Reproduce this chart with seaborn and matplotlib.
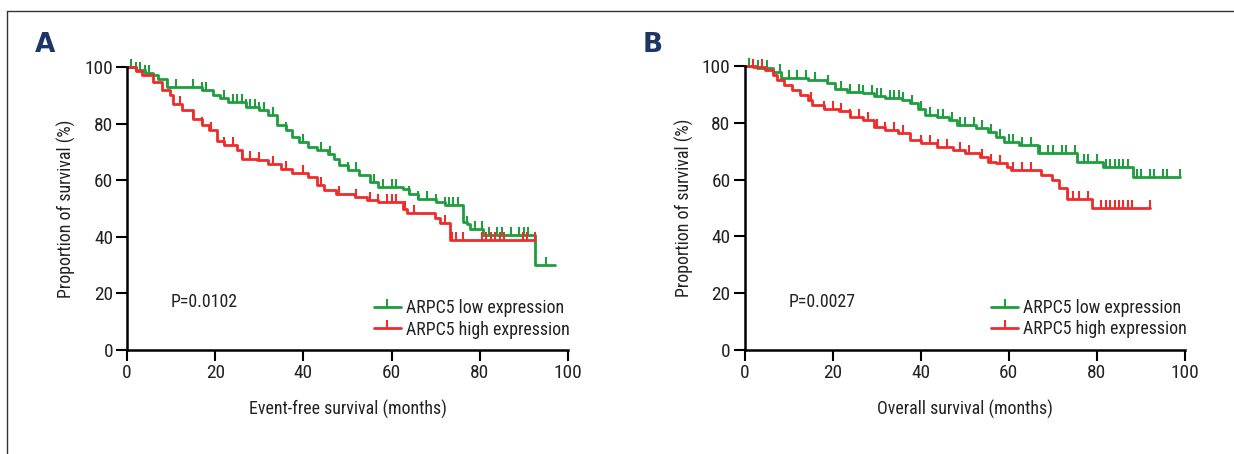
import numpy as np
import matplotlib
matplotlib.use("Agg")
import matplotlib.pyplot as plt
from matplotlib import font_manager
from matplotlib.font_manager import FontProperties
from matplotlib.lines import Line2D
import seaborn as sns

# ---------------- data ----------------
# Panel A: event-free survival (step times in months, survival % after step)
tA_low = [0, 2, 4, 6, 7, 9, 17, 19.5, 21, 23, 27, 30, 32, 34, 36, 37.5, 39, 41, 43,
          45.5, 47, 48, 50, 52.7, 55, 57, 62.5, 64, 66, 70, 72, 76.2, 77, 77.8, 80.7, 92.5, 97]
sA_low = [100, 99, 98, 97, 95.9, 93, 92, 90, 89, 87.6, 86, 84.7, 83, 79.4, 77.6, 75.3, 73.5, 71.8, 70.6,
          69.4, 67.6, 65.3, 63.5, 61.8, 59.4, 57.6, 57, 55.3, 53.5, 52.4, 51.2, 45.3, 44.5, 42.7, 40.6, 30, 30]
cA_low = [1, 2, 3, 4, 5, 9, 11, 15, 17, 18, 22, 24, 25, 26, 27, 28, 29, 30, 31, 33, 36, 40, 44,
          46, 50, 52, 56, 58, 60, 61, 64, 66, 68, 70, 72, 73, 74, 75, 77, 79, 80.5, 82, 84, 85,
          87, 89, 90, 91, 95]

tA_high = [0, 2, 3.4, 6, 8, 9.7, 10.5, 12.4, 15, 17, 18.6, 20.4, 22, 25, 26, 29.4, 32, 35, 37.5,
           41, 43, 44.6, 47.3, 51.8, 54.5, 57, 62.5, 63.5, 69.8, 71, 73.2, 92.5]
sA_high = [100, 98.5, 97, 94.7, 91.8, 90, 87, 84.7, 81.8, 79.4, 77.6, 74, 72.4, 70.6, 67.6, 67, 65.9, 64, 62.4,
           61.2, 58.2, 56.5, 55.3, 54, 53, 52.4, 50, 48.5, 46.7, 44.8, 38.9, 38.9]
cA_high = [12, 15, 17, 19, 22, 24, 26, 28, 30, 33, 36, 40, 44, 48, 52, 55, 57, 59, 60, 61, 63, 65,
           72, 73.6, 74.7, 76.2, 80.6, 81.5, 82.5, 83.5, 84.5, 85.5, 89.9, 90.6, 92.5]

# Panel B: overall survival
tB_low = [0, 2.8, 6.4, 8.2, 14.4, 18.8, 20.6, 23.3, 26.8, 29.5, 32, 35.7, 37.5, 39.3, 41, 43.7,
          46.4, 48.2, 52.6, 55.3, 57, 58.8, 62.4, 66.6, 75.4, 81.4, 88.2, 98.9]
sB_low = [100, 99.2, 98, 95.7, 95, 94.1, 92, 91, 90.4, 89.6, 88.6, 88, 86.9, 85, 82.7, 82.2,
          81, 79.2, 78, 76.9, 75, 73.4, 72.2, 69.3, 66.3, 64.5, 61, 61]
cB_low = [1, 3, 5, 8, 10, 12, 14, 16, 19, 22, 24, 26, 27, 29, 30, 31, 33, 34, 35, 36, 38, 40, 42,
          44, 45, 47, 49, 50, 52, 54, 56, 58, 60, 61, 63, 65, 67, 69, 70, 72, 73, 75, 77, 78, 80,
          82, 83, 84, 85, 86, 87, 89, 90, 92, 93, 95, 96, 98.9]

tB_high = [0, 2, 4.6, 6.4, 7.3, 9, 10.8, 12.6, 14.4, 15.3, 18, 21.5, 24, 26.8, 29.5, 32, 34.8,
           37.5, 40, 43.7, 47.3, 50, 53.5, 55.3, 57, 59.7, 60.6, 67.3, 69.8, 71.5, 73.1, 78.8, 92]
sB_high = [100, 99.8, 98.6, 96.8, 95, 93.3, 91.5, 89.8, 88, 86.3, 85, 84, 82.2, 81, 78.6, 77.5, 76.3,
           74, 72.8, 71.6, 70.4, 69.2, 68, 66.3, 65.7, 64.6, 63.4, 61.6, 59.9, 57, 53.3, 50, 50]
cB_high = [2, 4, 15, 18, 20, 22, 24, 26, 28, 30, 32, 34, 36, 40, 42, 44, 46, 49, 51, 54, 56, 58,
           61, 63, 65, 73.5, 74.5, 76, 78, 81, 82, 83, 84, 85, 86, 87, 88, 92]

panels = [
    dict(letter="A", xlabel="Event-free survival (months)", p="P=0.0102",
         low=(tA_low, sA_low, cA_low), high=(tA_high, sA_high, cA_high)),
    dict(letter="B", xlabel="Overall survival (months)", p="P=0.0027",
         low=(tB_low, sB_low, cB_low), high=(tB_high, sB_high, cB_high)),
]
labels = ["ARPC5 low expression", "ARPC5 high expression"]
xticks = [0, 20, 40, 60, 80, 100]
yticks = [0, 20, 40, 60, 80, 100]

# ---------------- style ----------------
sns.set_theme(style="white")
plt.rcParams["font.family"] = ["Liberation Sans", "DejaVu Sans"]


def pick_narrow_font():
    """Find an installed narrow/condensed regular face, if any."""
    fl = font_manager.fontManager.ttflist
    prefs = ["Liberation Sans Narrow", "Roboto Condensed", "Open Sans Condensed",
             "Noto Sans", "DejaVu Sans", "Open Sans", "Roboto", "Inter"]
    narrow = {"condensed", "semi-condensed", "extra-condensed", "ultra-condensed"}
    for name in prefs:
        for f in fl:
            nm_ok = (f.name == name)
            is_narrow = (f.stretch in narrow) or ("Narrow" in f.name) or ("Condensed" in f.name) \
                or ("Condensed" in f.fname) or ("Narrow" in f.fname)
            if nm_ok and is_narrow and f.weight in (400, "normal", "regular", "book") \
                    and f.style == "normal":
                return f.fname
    return None


narrow_path = pick_narrow_font()
if narrow_path:
    BASE = FontProperties(fname=narrow_path)
else:
    BASE = FontProperties(family="Liberation Sans")

GREEN = "#1e9e3e"
RED = "#ee2c2c"
NAVY = "#1c3766"
TXT = "#222222"

fig = plt.figure(figsize=(12.34, 4.54), dpi=100)

# choose a font size so that the x-axis title spans about as wide as in the reference
probe = fig.text(0, 0, panels[0]["xlabel"], fontproperties=BASE.copy(), fontsize=14)
fig.canvas.draw()
w = probe.get_window_extent(fig.canvas.get_renderer()).width
probe.remove()
FS = float(np.clip(14 * 200.0 / w, 10.5, 15.5))
TFS = FS * 1.08


def fp(size=None):
    p = BASE.copy()
    p.set_size(size if size else FS)
    return p


axes_pos = [[127 / 1234, 1 - 350 / 454, 441 / 1234, 283 / 454],
            [744.5 / 1234, 1 - 350 / 454, 440.5 / 1234, 284 / 454]]
letter_x = [35 / 1234, 643 / 1234]


def step_value(t, s, x):
    i = np.searchsorted(np.asarray(t), x, side="right") - 1
    return np.asarray(s)[i]


for k, pnl in enumerate(panels):
    ax = fig.add_axes(axes_pos[k])
    for (t, s, c), col in [(pnl["low"], GREEN), (pnl["high"], RED)]:
        sns.lineplot(x=t, y=s, ax=ax, color=col, lw=2.0, drawstyle="steps-post",
                     estimator=None, sort=False, clip_on=False)
        cy = step_value(t, s, c)
        ax.plot(c, cy, ls="none", marker=2, ms=6, mew=1.5, color=col, clip_on=False)
    ax.set_xlim(0, 100)
    ax.set_ylim(0, 100)
    ax.set_xticks(xticks)
    ax.set_yticks(yticks)
    ax.tick_params(axis="both", direction="out", length=8, width=1.5, color="black",
                   labelcolor=TXT, pad=2, bottom=True, left=True)
    for lab in ax.get_xticklabels() + ax.get_yticklabels():
        lab.set_fontproperties(fp(TFS))
    for sp in ["top", "right"]:
        ax.spines[sp].set_visible(False)
    for sp in ["left", "bottom"]:
        ax.spines[sp].set_color("black")
        ax.spines[sp].set_linewidth(1.8)
    ax.set_xlabel(pnl["xlabel"], fontproperties=fp(), color=TXT, labelpad=13)
    ax.set_ylabel("Proportion of survival (%)", fontproperties=fp(), color=TXT, labelpad=6)
    ax.text(0.10, 0.17, pnl["p"], transform=ax.transAxes, fontproperties=fp(), color=TXT,
            va="center", ha="left")
    handles = [Line2D([], [], color=GREEN, lw=2.0, marker=2, ms=6, mew=1.5),
               Line2D([], [], color=RED, lw=2.0, marker=2, ms=6, mew=1.5)]
    leg = ax.legend(handles, labels, loc="upper left", bbox_to_anchor=(0.56, 0.18),
                    frameon=False, prop=fp(), handlelength=1.5, handletextpad=0.3,
                    labelspacing=0.2, borderpad=0, borderaxespad=0, numpoints=1)
    for txt in leg.get_texts():
        txt.set_color(TXT)
    fig.text(letter_x[k], 1 - 45 / 454, pnl["letter"], fontsize=19, fontweight="bold",
             color=NAVY, va="center", ha="left", family=["DejaVu Sans"])

# outer frame lines (top and left)
fig.add_artist(Line2D([7 / 1234, 1], [1 - 11 / 454, 1 - 11 / 454], color="#333333", lw=1,
                      transform=fig.transFigure))
fig.add_artist(Line2D([7 / 1234, 7 / 1234], [0, 1 - 11 / 454], color="#333333", lw=1,
                      transform=fig.transFigure))

fig.savefig("out.png", dpi=100)
